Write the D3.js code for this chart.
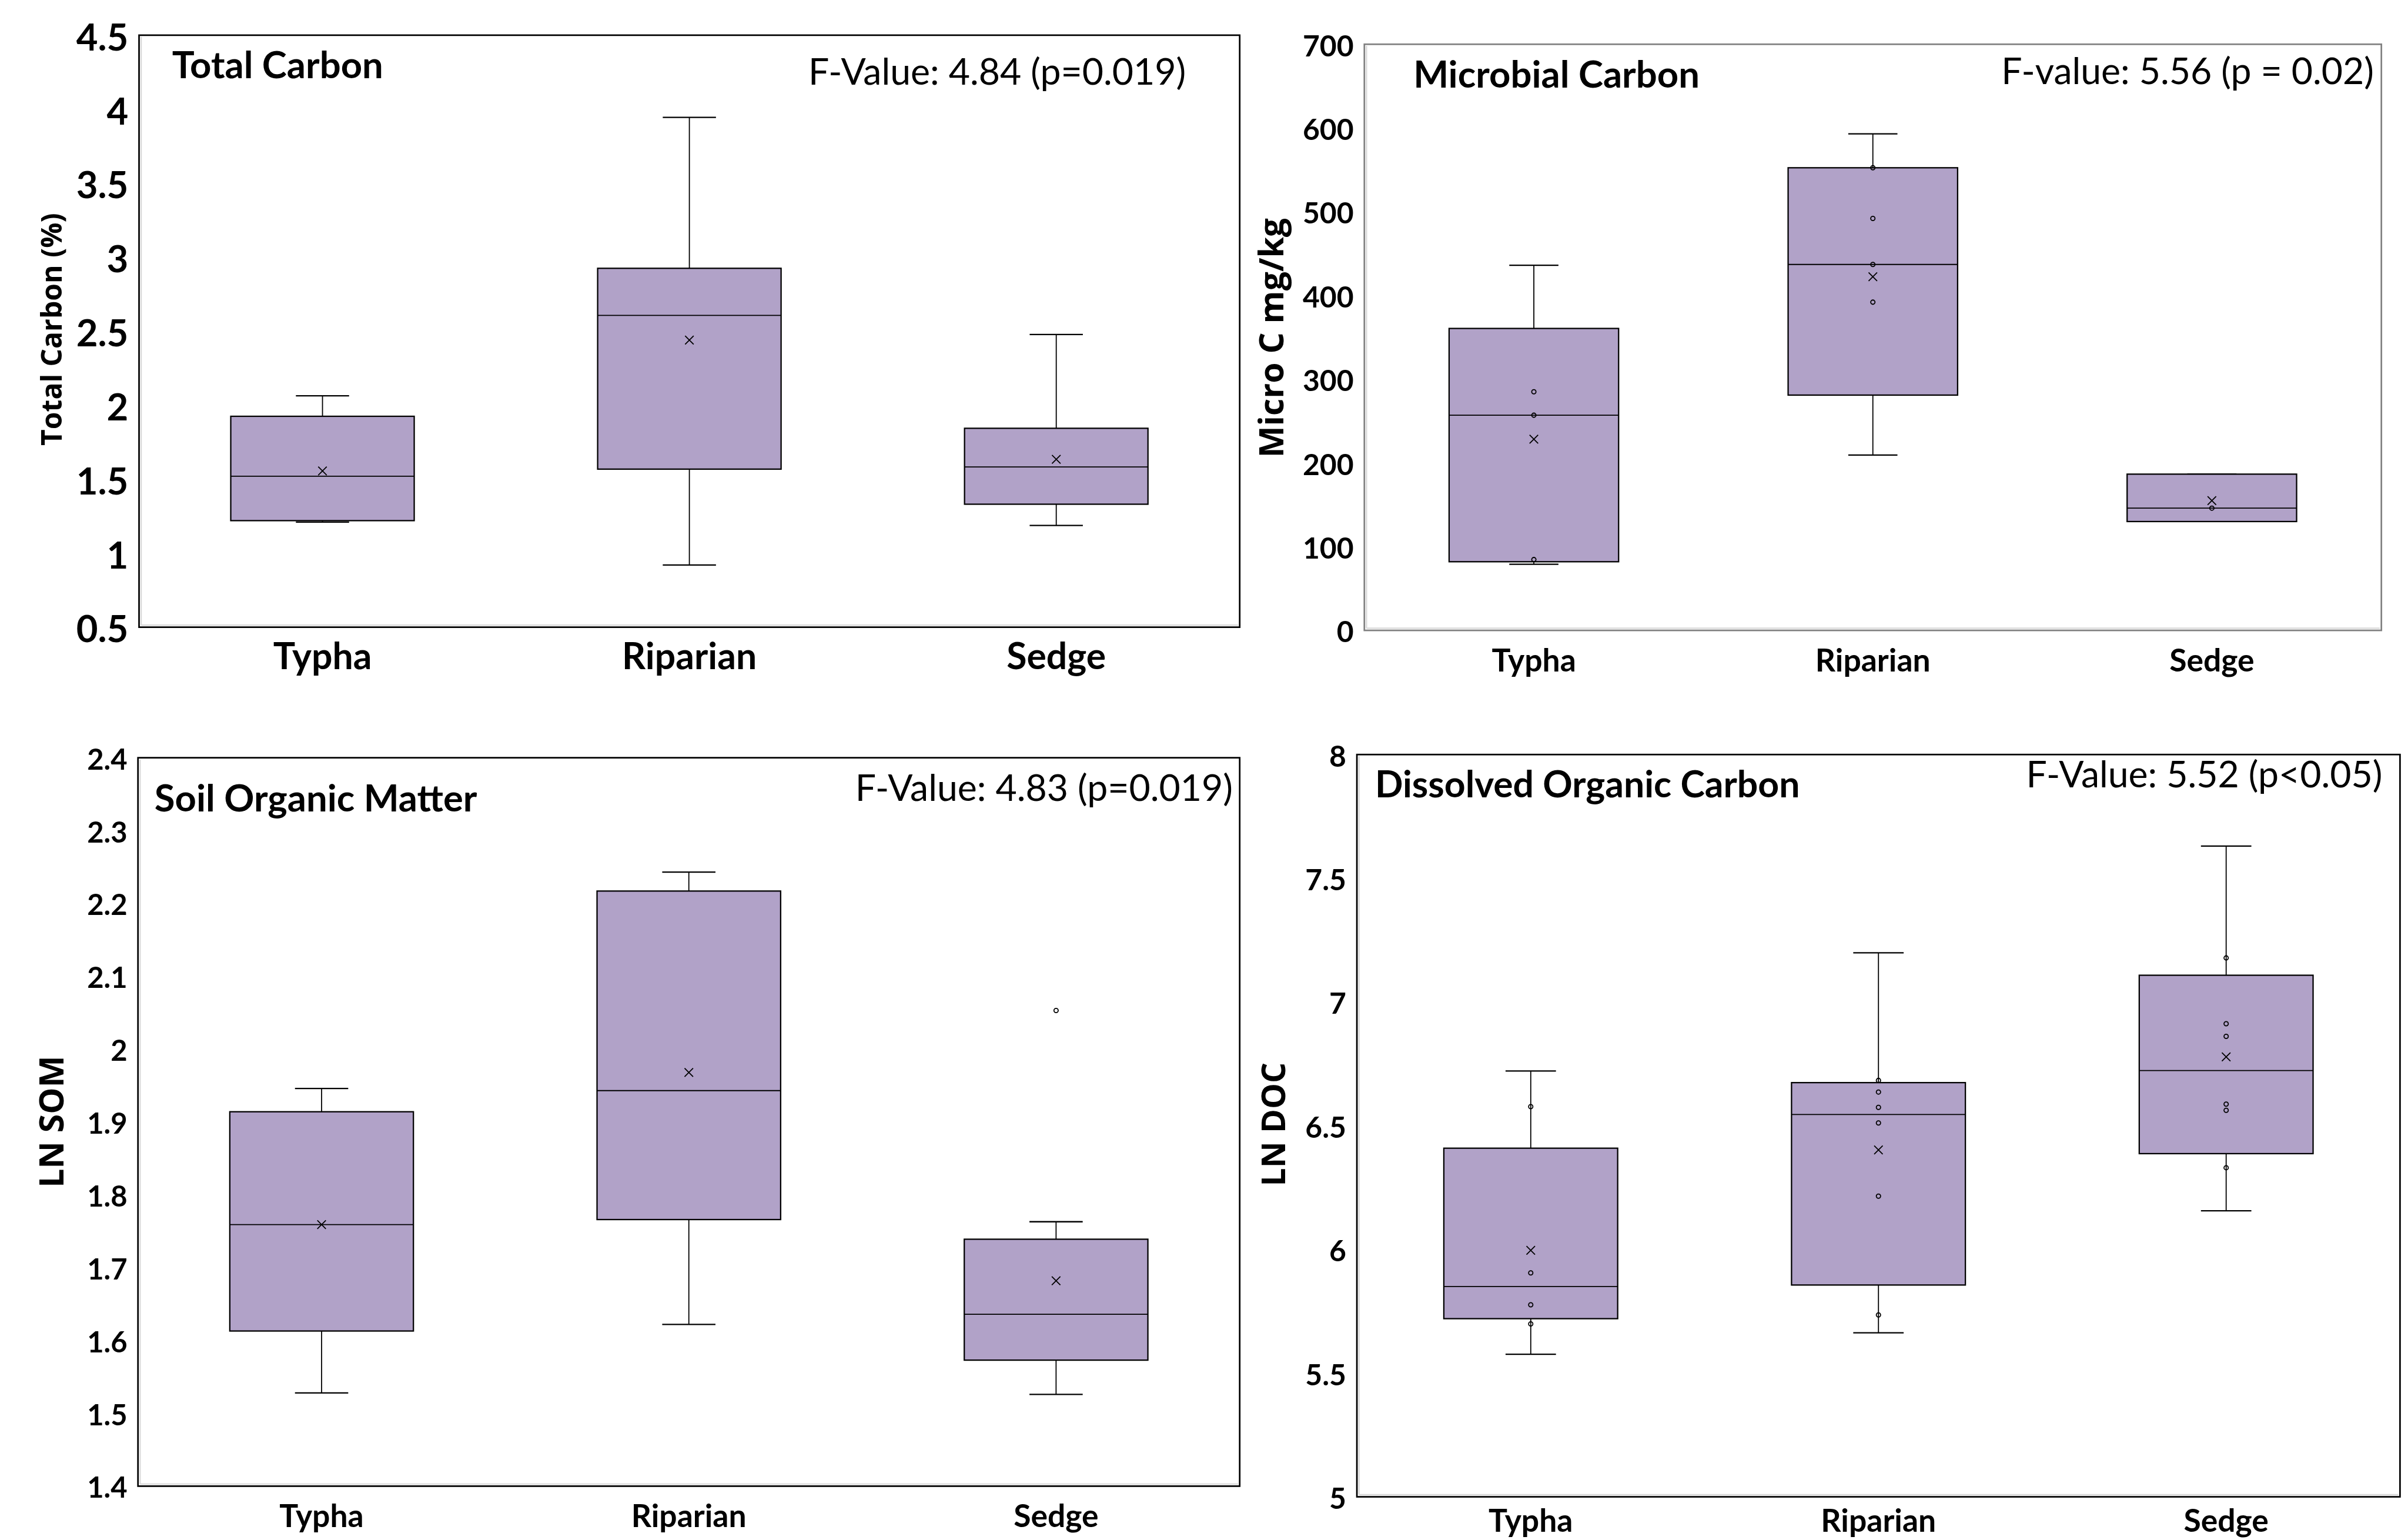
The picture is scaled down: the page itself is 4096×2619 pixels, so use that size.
<!DOCTYPE html>
<html>
<head>
<meta charset="utf-8">
<script src="https://cdn.jsdelivr.net/npm/d3@7"></script>
<style>
  body { margin: 0; background: #fff; }
  svg { display: block; }
</style>
</head>
<body>
<script>
const categories = ["Typha", "Riparian", "Sedge"];

// each row: [min, q1, median, q3, max]
const tcStats = [[1.21, 1.22, 1.52, 1.925, 2.063], [0.92, 1.568, 2.607, 2.925, 3.945], [1.187, 1.331, 1.583, 1.844, 2.478]];
const tcMeans = [1.556, 2.44, 1.634];
const tcPoints = [[], [], []];
const tcTicks = [0.5, 1, 1.5, 2, 2.5, 3, 3.5, 4, 4.5];

const mcStats = [[79, 82, 257, 360.6, 436], [209.4, 281, 437, 552.5, 593], [130, 130, 146, 186.6, 186.6]];
const mcMeans = [228.4, 422.4, 155];
const mcPoints = [[285, 257, 84.6], [552.5, 492, 437, 392], [146]];
const mcTicks = [0, 100, 200, 300, 400, 500, 600, 700];

const somStats = [[1.528, 1.613, 1.759, 1.914, 1.946], [1.622, 1.766, 1.943, 2.217, 2.243], [1.526, 1.573, 1.636, 1.739, 1.763]];
const somMeans = [1.759, 1.968, 1.682];
const somPoints = [[], [], [2.053]];
const somTicks = [1.4, 1.5, 1.6, 1.7, 1.8, 1.9, 2, 2.1, 2.2, 2.3, 2.4];

const docStats = [[5.576, 5.72, 5.85, 6.409, 6.721], [5.663, 5.856, 6.545, 6.674, 7.199], [6.156, 6.387, 6.723, 7.108, 7.63]];
const docMeans = [5.996, 6.402, 6.778];
const docPoints = [[6.577, 5.905, 5.776, 5.699], [6.683, 6.636, 6.574, 6.511, 6.215, 5.735], [7.178, 6.912, 6.861, 6.587, 6.562, 6.33]];
const docTicks = [5, 5.5, 6, 6.5, 7, 7.5, 8];

// drawn in the reference's coordinates, scaled down by the viewBox
const svg = d3.select("body").append("svg")
  .attr("width", 4096)
  .attr("height", 2619)
  .attr("viewBox", "0 0 4520 2890");

const boxFill = "#b1a2c8";
const fmt = d3.format("~g");

const panels = [
  { stats: tcStats, means: tcMeans, points: tcPoints, ticks: tcTicks, domain: [0.5, 4.5],
    x0: 261, x1: 2327, y0: 66, y1: 1177, frame: "#000",
    tickSize: 70, catSize: 69, catY: 79,
    title: "Total Carbon", titleX: 323, titleY: 147, titleSize: 70,
    fval: "F-Value: 4.84 (p=0.019)", fX: 2226, fY: 159,
    ylab: "Total Carbon (%)", ylabX: 97, ylabY: 618, ylabSize: 53 },
  { stats: mcStats, means: mcMeans, points: mcPoints, ticks: mcTicks, domain: [0, 700],
    x0: 2561, x1: 4470, y0: 83, y1: 1183, frame: "#808080",
    tickSize: 55, catSize: 59, catY: 77,
    title: "Microbial Carbon", titleX: 2653, titleY: 164, titleSize: 70,
    fval: "F-value: 5.56 (p = 0.02)", fX: 4456, fY: 158,
    ylab: "Micro C mg/kg", ylabX: 2386, ylabY: 634, ylabSize: 63 },
  { stats: somStats, means: somMeans, points: somPoints, ticks: somTicks, domain: [1.4, 2.4],
    x0: 259, x1: 2327, y0: 1422, y1: 2789, frame: "#000",
    tickSize: 54, catSize: 59, catY: 77,
    title: "Soil Organic Matter", titleX: 290, titleY: 1523, titleSize: 70,
    fval: "F-Value: 4.83 (p=0.019)", fX: 2314, fY: 1503,
    ylab: "LN SOM", ylabX: 96, ylabY: 2105, ylabSize: 63 },
  { stats: docStats, means: docMeans, points: docPoints, ticks: docTicks, domain: [5, 8],
    x0: 2547, x1: 4505, y0: 1416, y1: 2809, frame: "#000",
    tickSize: 55, catSize: 59, catY: 66,
    title: "Dissolved Organic Carbon", titleX: 2581, titleY: 1496, titleSize: 69,
    fval: "F-Value: 5.52 (p<0.05)", fX: 4472, fY: 1478,
    ylab: "LN DOC", ylabX: 2390, ylabY: 2110, ylabSize: 61 }
];

function drawPanel(p) {
  const g = svg.append("g");

  const x = d3.scaleBand()
    .domain(categories)
    .range([p.x0, p.x1])
    .paddingInner(0.5)
    .paddingOuter(0.25);
  const y = d3.scaleLinear()
    .domain(p.domain)
    .range([p.y1, p.y0]);

  // plot frame + the light axis lines inside it
  g.append("rect")
    .attr("x", p.x0).attr("y", p.y0)
    .attr("width", p.x1 - p.x0).attr("height", p.y1 - p.y0)
    .attr("fill", "none")
    .attr("stroke", p.frame)
    .attr("stroke-width", 3);
  g.append("line")
    .attr("x1", p.x0 + 4).attr("x2", p.x0 + 4)
    .attr("y1", p.y0 + 3).attr("y2", p.y1 - 4)
    .attr("stroke", "#d9d9d9").attr("stroke-width", 2.5);
  g.append("line")
    .attr("x1", p.x0 + 4).attr("x2", p.x1 - 3)
    .attr("y1", p.y1 - 4).attr("y2", p.y1 - 4)
    .attr("stroke", "#d9d9d9").attr("stroke-width", 2.5);

  // y axis
  const yAxis = g.append("g")
    .attr("transform", "translate(" + p.x0 + ",0)")
    .call(d3.axisLeft(y).tickValues(p.ticks).tickFormat(fmt).tickSize(0).tickPadding(20));
  yAxis.select(".domain").remove();
  yAxis.selectAll("text")
    .attr("font-family", "Lato, sans-serif")
    .attr("font-weight", "bold")
    .attr("font-size", p.tickSize)
    .attr("fill", "#000")
    .attr("dy", "0.4em");

  // category axis
  const xAxis = g.append("g")
    .attr("transform", "translate(0," + p.y1 + ")")
    .call(d3.axisBottom(x).tickSize(0));
  xAxis.select(".domain").remove();
  xAxis.selectAll("text")
    .attr("font-family", "Lato, sans-serif")
    .attr("font-weight", "bold")
    .attr("font-size", p.catSize)
    .attr("fill", "#000")
    .attr("y", p.catY)
    .attr("dy", null);

  const bw = x.bandwidth();
  const capW = bw * 0.29;

  const boxes = g.selectAll(".box")
    .data(p.stats.map((s, i) => ({ cat: categories[i], s: s, mean: p.means[i], pts: p.points[i] })))
    .join("g")
    .attr("class", "box");

  boxes.each(function(d) {
    const b = d3.select(this);
    const cx = x(d.cat) + bw / 2;
    const [mn, q1, md, q3, mx] = d.s;

    // whiskers
    b.append("line").attr("x1", cx).attr("x2", cx).attr("y1", y(q3)).attr("y2", y(mx))
      .attr("stroke", "#000").attr("stroke-width", 2);
    b.append("line").attr("x1", cx).attr("x2", cx).attr("y1", y(q1)).attr("y2", y(mn))
      .attr("stroke", "#000").attr("stroke-width", 2);
    [mn, mx].forEach(v => {
      b.append("line")
        .attr("x1", cx - capW / 2).attr("x2", cx + capW / 2)
        .attr("y1", y(v)).attr("y2", y(v))
        .attr("stroke", "#000").attr("stroke-width", 2.5);
    });

    b.append("rect")
      .attr("x", x(d.cat)).attr("width", bw)
      .attr("y", y(q3)).attr("height", y(q1) - y(q3))
      .attr("fill", boxFill)
      .attr("stroke", "#000")
      .attr("stroke-width", 2.5);
    b.append("line")
      .attr("x1", x(d.cat)).attr("x2", x(d.cat) + bw)
      .attr("y1", y(md)).attr("y2", y(md))
      .attr("stroke", "#000").attr("stroke-width", 2);

    // inner points
    b.selectAll("circle").data(d.pts).join("circle")
      .attr("cx", cx).attr("cy", v => y(v))
      .attr("r", 4)
      .attr("fill", "none")
      .attr("stroke", "#000")
      .attr("stroke-width", 2);

    // mean marker
    const my = y(d.mean), h = 8;
    b.append("path")
      .attr("d", "M" + (cx - h) + "," + (my - h) + "L" + (cx + h) + "," + (my + h) +
                 "M" + (cx - h) + "," + (my + h) + "L" + (cx + h) + "," + (my - h))
      .attr("stroke", "#000").attr("stroke-width", 2).attr("fill", "none");
  });

  g.append("text")
    .attr("x", p.titleX).attr("y", p.titleY)
    .attr("font-family", "Lato, sans-serif")
    .attr("font-weight", "bold")
    .attr("font-size", p.titleSize)
    .text(p.title);

  g.append("text")
    .attr("x", p.fX).attr("y", p.fY)
    .attr("text-anchor", "end")
    .attr("font-family", "Lato, sans-serif")
    .attr("font-size", 69)
    .text(p.fval);

  g.append("text")
    .attr("transform", "translate(" + p.ylabX + "," + p.ylabY + ") rotate(-90)")
    .attr("text-anchor", "middle")
    .attr("dy", "0.36em")
    .attr("font-family", "'Open Sans', sans-serif")
    .attr("font-weight", "bold")
    .attr("font-size", p.ylabSize)
    .text(p.ylab);
}

panels.forEach(drawPanel);
</script>
</body>
</html>
